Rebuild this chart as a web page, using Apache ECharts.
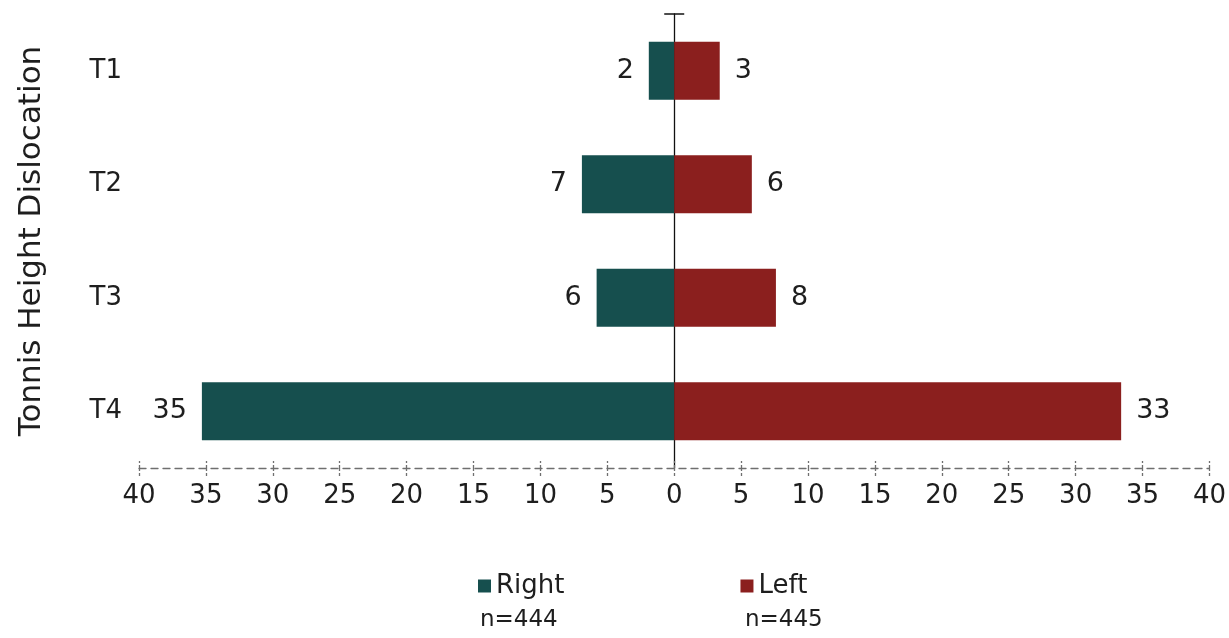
<!DOCTYPE html>
<html>
<head>
<meta charset="utf-8">
<script src="https://cdn.jsdelivr.net/npm/echarts@6/dist/echarts.min.js"></script>
<style>
    html, body { margin: 0; padding: 0; background: #fff; }
    #chart { width: 1229px; height: 638px; }
</style>
</head>
<body>
<div id="chart"></div>
<script>
    // data
    const categories = ['T1', 'T2', 'T3', 'T4'];
    const rightValues = [1.9, 6.9, 5.8, 35.3];
    const leftValues = [3.4, 5.8, 7.6, 33.4];
    const seriesNames = ['Right', 'Left'];
    const sampleSizes = [444, 445];
    const axisMin = -40, axisMax = 40, axisStep = 5;

    const font = '"DejaVu Sans", sans-serif';
    const textColor = '#1e1e1e';

    const chart = echarts.init(document.getElementById('chart'));

    chart.setOption({
        animation: false,
        textStyle: { fontFamily: font },
        grid: { left: 139, right: 19, top: 14, bottom: 170 },
        legend: {
            data: seriesNames,
            left: 473,
            top: 568,
            itemWidth: 13,
            itemHeight: 13,
            itemGap: 176,
            icon: 'rect',
            textStyle: { fontSize: 26, color: textColor, fontFamily: font }
        },
        // sample sizes under the legend entries
        graphic: sampleSizes.map((n, i) => ({
            type: 'text',
            left: i === 0 ? 480 : 745,
            top: 609,
            style: { text: 'n=' + n, fontSize: 23, fill: textColor, fontFamily: font }
        })),
        xAxis: [{
            type: 'value',
            min: axisMin,
            max: axisMax,
            interval: axisStep,
            splitLine: { show: false },
            axisLine: { show: true, lineStyle: { color: '#6f6f6f', width: 1.3, type: [7, 5] } },
            axisTick: { show: true, length: 8, lineStyle: { color: '#6f6f6f', width: 1.3, type: [3, 2] } },
            axisLabel: {
                fontSize: 26,
                color: textColor,
                margin: 15,
                formatter: v => Math.abs(v)
            }
        }, {
            // second copy only to draw the inner half of the ticks
            type: 'value',
            position: 'bottom',
            min: axisMin,
            max: axisMax,
            interval: axisStep,
            splitLine: { show: false },
            axisLine: { show: false },
            axisLabel: { show: false },
            axisTick: { show: true, inside: true, length: 7, lineStyle: { color: '#6f6f6f', width: 1.3, type: [3, 2] } }
        }],
        yAxis: [{
            type: 'category',
            data: categories,
            inverse: true,
            name: 'Tonnis Height Dislocation',
            nameLocation: 'middle',
            nameGap: 92,
            nameTextStyle: { fontSize: 31, color: textColor },
            axisLine: { show: false },
            axisTick: { show: false },
            axisLabel: { fontSize: 26, color: textColor, margin: 17 }
        }, {
            // the vertical line through zero
            type: 'category',
            data: categories,
            inverse: true,
            axisLine: {
                show: true,
                onZero: true,
                symbol: ['none', 'rect'],
                symbolSize: [20, 1.5],
                lineStyle: { color: '#111', width: 1.3 }
            },
            axisTick: { show: false },
            axisLabel: { show: false }
        }],
        series: [{
            name: seriesNames[0],
            type: 'bar',
            data: rightValues.map(v => -v),
            barWidth: 58,
            barGap: '-100%',
            itemStyle: { color: '#164f4e' },
            label: {
                show: true,
                position: 'left',
                distance: 15,
                fontSize: 27,
                color: textColor,
                formatter: p => Math.round(Math.abs(p.value))
            }
        }, {
            name: seriesNames[1],
            type: 'bar',
            data: leftValues,
            barWidth: 58,
            barGap: '-100%',
            itemStyle: { color: '#8b1f1e' },
            label: {
                show: true,
                position: 'right',
                distance: 15,
                fontSize: 27,
                color: textColor,
                formatter: p => Math.round(p.value)
            }
        }]
    });
</script>
</body>
</html>
